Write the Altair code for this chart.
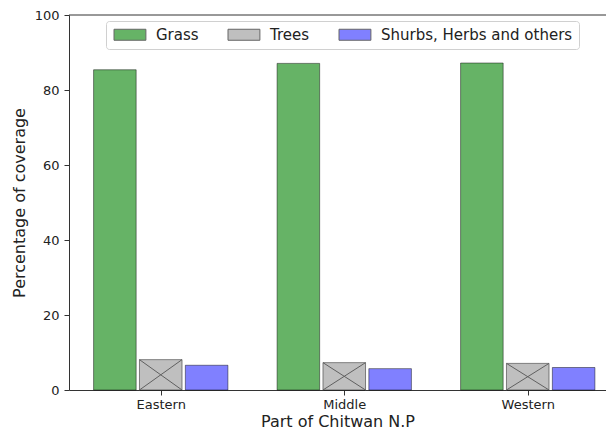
import json
import altair as alt
import pandas as pd

categories = ["Eastern", "Middle", "Western"]
series = ["Grass", "Trees", "Shurbs, Herbs and others"]
grass = [85.4, 87.1, 87.2]
trees = [8.1, 7.3, 7.1]
shrubs = [6.6, 5.7, 6.0]
fill_colors = ["#66b366", "#bfbfbf", "#8080ff"]
y_ticks = [0, 20, 40, 60, 80, 100]

values_by_series = [grass, trees, shrubs]
rows = []
for si, (name, vals) in enumerate(zip(series, values_by_series)):
    for ci, (cat, v) in enumerate(zip(categories, vals)):
        rows.append({"part": cat, "cat_index": ci, "series": name,
                     "series_index": si, "value": v, "zero": 0})
df = pd.DataFrame(rows)

FONT = "DejaVu Sans"
PLOT_W = 537

base = alt.Chart(df).transform_calculate(
    center="datum.cat_index + (datum.series_index - 1) * 0.25",
    x0="datum.center - 0.116",
    x1="datum.center + 0.116",
)

xscale = alt.Scale(domain=[-0.5, 2.4264], nice=False, zero=False)
yscale = alt.Scale(domain=[0, 100], nice=False)
label_expr = json.dumps(categories) + "[datum.value]"

x_axis = alt.Axis(values=[0, 1, 2], labelExpr=label_expr,
                  title="Part of Chitwan N.P", tickSize=5,
                  labelPadding=3, labelFontSize=13, titleFontSize=16,
                  titlePadding=2, labelFlush=False)
y_axis = alt.Axis(values=y_ticks, title="Percentage of coverage",
                  tickSize=5, labelPadding=5, labelFontSize=13,
                  titleFontSize=16, titlePadding=7)

bars = base.mark_bar(stroke="black", strokeOpacity=0.45, strokeWidth=1).encode(
    x=alt.X("x0:Q", scale=xscale, axis=x_axis),
    x2="x1:Q",
    y=alt.Y("value:Q", scale=yscale, axis=y_axis),
    y2="zero:Q",
    color=alt.Color("series:N", scale=alt.Scale(domain=series, range=fill_colors),
                    sort=series,
                    legend=alt.Legend(title=None, orient="none", legendX=37, legendY=6,
                                      direction="horizontal", columns=3,
                                      symbolType="M-1,-1H4.8V1H-1Z", symbolSize=121,
                                      labelOffset=29, columnPadding=27, padding=6,
                                      strokeColor="#d0d0d0", cornerRadius=3,
                                      fillColor="white", labelFontSize=15, labelFont=FONT,
                                      labelColor="#222", labelLimit=400,
                                      symbolStrokeColor="#666",
                                      symbolStrokeWidth=1, symbolOpacity=1)),
)

trees_only = base.transform_filter(alt.datum.series == "Trees")
hatch1 = trees_only.mark_rule(color="#606060", strokeWidth=1).encode(
    x=alt.X("x0:Q", scale=xscale, axis=x_axis), x2="x1:Q",
    y=alt.Y("value:Q", scale=yscale, axis=y_axis), y2="zero:Q",
)
hatch2 = trees_only.mark_rule(color="#606060", strokeWidth=1).encode(
    x=alt.X("x1:Q", scale=xscale, axis=x_axis), x2="x0:Q",
    y=alt.Y("value:Q", scale=yscale, axis=y_axis), y2="zero:Q",
)

top_spine = alt.Chart(pd.DataFrame({"v": [100]})).mark_rule(color="#333", strokeWidth=1).encode(
    y=alt.Y("v:Q", scale=yscale, axis=y_axis), x=alt.value(0), x2=alt.value(PLOT_W)
)

chart = alt.layer(bars, hatch1, hatch2, top_spine).properties(
    width=PLOT_W, height=375,
    autosize=alt.AutoSizeParams(type="none"),
    padding={"left": 61, "top": 7, "right": 0, "bottom": 40},
).configure_view(stroke="transparent", strokeWidth=0).configure_axis(
    grid=False, domainColor="#333", tickColor="#333", labelColor="#222",
    titleColor="#222", labelFont=FONT, titleFont=FONT, titleFontWeight="normal",
)

chart.save("out.html", embed_options={"renderer": "svg", "actions": False})
